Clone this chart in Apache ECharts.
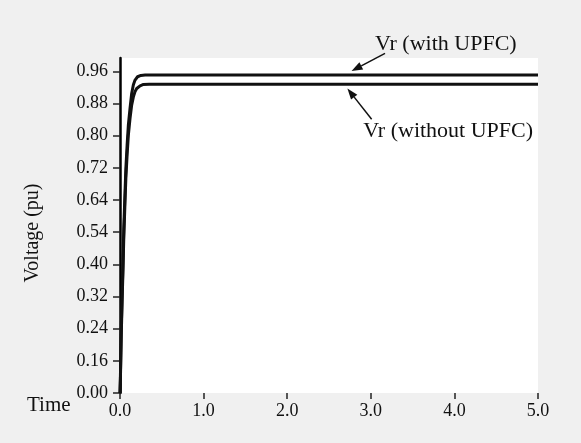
<!DOCTYPE html>
<html>
<head>
  <meta charset="utf-8">
  <title>Vr voltage</title>
  <script src="https://cdn.jsdelivr.net/npm/echarts@6/dist/echarts.min.js"></script>
  <style>
    body { margin: 0; padding: 0; background: #f0f0f0; }
    #main { width: 581px; height: 443px; }
  </style>
</head>
<body>
<div id="main"></div>
<script>
// time (s) / voltage (pu) pairs
const withUpfc = [
  [0, 0], [0.005, 0.05], [0.015, 0.19], [0.025, 0.29], [0.035, 0.38],
  [0.045, 0.49], [0.06, 0.6], [0.07, 0.67], [0.085, 0.74], [0.1, 0.8],
  [0.12, 0.85], [0.14, 0.895], [0.16, 0.92], [0.18, 0.934], [0.21, 0.944],
  [0.25, 0.948], [0.3, 0.949], [5, 0.949],
];
const withoutUpfc = [
  [0, 0], [0.005, 0.04], [0.015, 0.17], [0.025, 0.27], [0.035, 0.36],
  [0.045, 0.46], [0.06, 0.57], [0.07, 0.64], [0.085, 0.71], [0.1, 0.77],
  [0.12, 0.82], [0.14, 0.86], [0.16, 0.884], [0.18, 0.9], [0.2, 0.909],
  [0.24, 0.917], [0.28, 0.921], [0.35, 0.922], [5, 0.922],
];
// the printed y labels are evenly spaced, bottom to top
const yTickLabels = ['0.00', '0.16', '0.24', '0.32', '0.40', '0.54', '0.64', '0.72', '0.80', '0.88', '0.96'];
const yStep = 0.096;
const yTickValues = yTickLabels.map((s, i) => +(i * yStep).toFixed(3));
const xTicks = [0, 1, 2, 3, 4, 5];

// annotation arrows in data units: [tail, head]
const notes = [
  { text: 'Vr (with UPFC)', at: [3.05, 1.04], tail: [3.17, 1.014], head: [2.77, 0.961] },
  { text: 'Vr (without UPFC)', at: [2.91, 0.781], tail: [3.01, 0.817], head: [2.72, 0.909] },
];

const FONT = 'Liberation Serif';
const chart = echarts.init(document.getElementById('main'));

const lineSeries = (name, data) => ({
  name: name,
  type: 'line',
  data: data,
  showSymbol: false,
  lineStyle: { color: '#111', width: 3 },
  animation: false,
});

chart.setOption({
  backgroundColor: '#f0f0f0',
  animation: false,
  grid: {
    left: 120, right: 43, top: 58, bottom: 50,
    show: true, backgroundColor: '#fff', borderWidth: 0,
  },
  xAxis: {
    type: 'value', min: 0, max: 5, interval: 1,
    name: 'Time', nameLocation: 'start', nameGap: 45,
    nameTextStyle: { fontFamily: FONT, fontSize: 21, color: '#111', verticalAlign: 'top', padding: [2, 0, 0, 0] },
    axisLine: { show: false },
    axisTick: { show: true, length: 6, lineStyle: { color: '#222', width: 1.5 }, customValues: xTicks },
    axisLabel: {
      fontFamily: FONT, fontSize: 18, color: '#111', margin: 9,
      customValues: xTicks,
      formatter: (v) => v.toFixed(1),
    },
    splitLine: { show: false },
  },
  yAxis: {
    type: 'value', min: 0, max: 1.0,
    axisLine: { show: true, lineStyle: { color: '#000', width: 2.5 } },
    axisTick: { show: true, length: 7, lineStyle: { color: '#222', width: 1.5 }, customValues: yTickValues },
    axisLabel: {
      fontFamily: FONT, fontSize: 18, color: '#111', margin: 12,
      customValues: yTickValues,
      formatter: (v) => yTickLabels[Math.round(v / yStep)],
    },
    splitLine: { show: false },
  },
  series: [
    lineSeries('Vr (with UPFC)', withUpfc),
    lineSeries('Vr (without UPFC)', withoutUpfc),
  ],
});

// annotations: text + arrows, placed through the grid's coordinate system
const px = (p) => chart.convertToPixel({ gridIndex: 0 }, p);
const graphics = [];
notes.forEach((n) => {
  const a = px(n.at), t = px(n.tail), h = px(n.head);
  graphics.push({
    type: 'text', x: a[0], y: a[1],
    style: { text: n.text, font: '22px "' + FONT + '"', fill: '#111', textVerticalAlign: 'middle' },
  });
  const ang = Math.atan2(h[1] - t[1], h[0] - t[0]);
  const len = 11, wid = 4;
  const bx = h[0] - len * Math.cos(ang), by = h[1] - len * Math.sin(ang);
  graphics.push({
    type: 'line', shape: { x1: t[0], y1: t[1], x2: bx, y2: by },
    style: { stroke: '#111', lineWidth: 1.5 },
  });
  graphics.push({
    type: 'polygon',
    shape: { points: [
      h,
      [bx + wid * Math.sin(ang), by - wid * Math.cos(ang)],
      [bx - wid * Math.sin(ang), by + wid * Math.cos(ang)],
    ] },
    style: { fill: '#111' },
  });
});
// rotated y-axis title
graphics.push({
  type: 'text', x: 33, y: 233, rotation: Math.PI / 2,
  style: { text: 'Voltage (pu)', font: '20px "' + FONT + '"', fill: '#111', textAlign: 'center', textVerticalAlign: 'middle' },
});
chart.setOption({ graphic: graphics });

window.addEventListener('resize', function () {
  chart.resize();
});
</script>
</body>
</html>
